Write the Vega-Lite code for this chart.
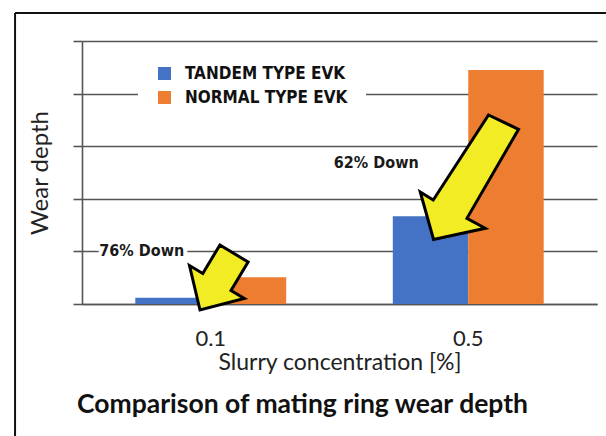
{
  "$schema": "https://vega.github.io/schema/vega-lite/v6.json",
  "width": 515,
  "height": 263,
  "autosize": {"type": "none"},
  "padding": {"left": 82, "top": 41, "right": 9, "bottom": 132},
  "background": "white",
  "config": {"view": {"stroke": null}, "font": "Lato"},
  "title": {
    "text": "Comparison of mating ring wear depth",
    "orient": "bottom",
    "anchor": "middle",
    "dx": -37,
    "offset": -66,
    "fontSize": 26.5,
    "fontWeight": "bold",
    "font": "Lato",
    "color": "#111111"
  },
  "datasets": {
    "bars": [
      {"conc": "0.1", "type": "TANDEM TYPE EVK", "depth": 0.12},
      {"conc": "0.1", "type": "NORMAL TYPE EVK", "depth": 0.51},
      {"conc": "0.5", "type": "TANDEM TYPE EVK", "depth": 1.67},
      {"conc": "0.5", "type": "NORMAL TYPE EVK", "depth": 4.45}
    ]
  },
  "resolve": {"scale": {"x": "independent", "y": "independent"}, "axis": {"x": "independent", "y": "independent"}},
  "layer": [
    {
      "data": {"values": [{}]},
      "layer": [
        {
          "mark": {"type": "rule", "color": "#111111", "strokeWidth": 2, "clip": false},
          "encoding": {
            "x": {"datum": -0.13, "type": "quantitative", "scale": {"domain": [0, 1], "nice": false, "zero": false}, "axis": null},
            "y": {"datum": 5.532, "type": "quantitative", "scale": {"domain": [0, 5], "nice": false}, "axis": null},
            "y2": {"datum": -2.9}
          }
        },
        {
          "mark": {"type": "rule", "color": "#111111", "strokeWidth": 2, "clip": false},
          "encoding": {
            "x": {"datum": -0.13, "type": "quantitative", "scale": {"domain": [0, 1], "nice": false, "zero": false}, "axis": null},
            "x2": {"datum": 1.2},
            "y": {"datum": 5.532, "type": "quantitative", "scale": {"domain": [0, 5], "nice": false}, "axis": null}
          }
        }
      ]
    },
    {
      "layer": [
        {
          "data": {"name": "bars"},
          "mark": {"type": "bar"},
          "encoding": {
            "x": {
              "field": "conc",
              "type": "nominal",
              "scale": {"domain": ["0.1", "0.5"], "paddingInner": 0.414, "paddingOuter": 0.207},
              "axis": {
                "title": "Slurry concentration [%]",
                "labelAngle": 0,
                "labelFont": "Lato",
                "labelFontSize": 22,
                "labelColor": "#222222",
                "labelPadding": 24,
                "ticks": false,
                "domainColor": "#555555",
                "domainWidth": 1.5,
                "titleFont": "Lato",
                "titleFontSize": 23,
                "titleFontWeight": "normal",
                "titleColor": "#222222",
                "titlePadding": 2,
                "grid": false
              }
            },
            "xOffset": {"field": "type", "type": "nominal", "scale": {"domain": ["TANDEM TYPE EVK", "NORMAL TYPE EVK"], "paddingInner": 0, "paddingOuter": 0}},
            "y": {
              "field": "depth",
              "type": "quantitative",
              "scale": {"domain": [0, 5], "nice": false},
              "axis": {
                "title": "Wear depth",
                "values": [0, 1, 2, 3, 4, 5],
                "labels": false,
                "grid": true,
                "gridColor": "#555555",
                "gridWidth": 1.6,
                "domainColor": "#555555",
                "domainWidth": 1.6,
                "tickColor": "#555555",
                "tickWidth": 1.6,
                "tickSize": 9,
                "titleFont": "Lato",
                "titleFontSize": 24,
                "titleFontWeight": "normal",
                "titleColor": "#222222",
                "titlePadding": 20
              }
            },
            "color": {
              "field": "type",
              "type": "nominal",
              "scale": {"domain": ["TANDEM TYPE EVK", "NORMAL TYPE EVK"], "range": ["#4472C4", "#ED7D31"]},
              "legend": {
                "title": null,
                "orient": "none",
                "legendX": 56,
                "legendY": 6,
                "padding": 18,
                "fillColor": "white",
                "symbolType": "square",
                "symbolSize": 169,
                "symbolStrokeWidth": 0,
                "symbolOpacity": 1,
                "labelFont": "DejaVu Sans Condensed, Liberation Sans Narrow, sans-serif",
                "labelFontWeight": "bold",
                "labelFontSize": 17,
                "labelLimit": 400,
                "labelColor": "#111111",
                "labelOffset": 12,
                "rowPadding": 6
              }
            }
          }
        },
        {
          "data": {"values": [{"conc": "0.1", "label": "76% Down"}]},
          "layer": [
            {
              "mark": {"type": "text", "dx": -69, "fontSize": 16, "fontWeight": "bold", "font": "Liberation Sans Narrow, DejaVu Sans Condensed, sans-serif", "stroke": "white", "strokeWidth": 8, "fill": "white", "align": "center", "baseline": "middle"},
              "encoding": {"x": {"field": "conc", "type": "nominal"}, "y": {"datum": 1, "type": "quantitative"}, "text": {"field": "label"}}
            },
            {
              "mark": {"type": "text", "dx": -69, "fontSize": 16, "fontWeight": "bold", "font": "Liberation Sans Narrow, DejaVu Sans Condensed, sans-serif", "color": "#1a1a1a", "align": "center", "baseline": "middle"},
              "encoding": {"x": {"field": "conc", "type": "nominal"}, "y": {"datum": 1, "type": "quantitative"}, "text": {"field": "label"}}
            }
          ]
        },
        {
          "data": {"values": [{"conc": "0.5", "label": "62% Down"}]},
          "mark": {"type": "text", "dx": -92, "fontSize": 16, "fontWeight": "bold", "font": "Liberation Sans Narrow, DejaVu Sans Condensed, sans-serif", "color": "#1a1a1a", "align": "center", "baseline": "middle"},
          "encoding": {"x": {"field": "conc", "type": "nominal"}, "y": {"datum": 2.68, "type": "quantitative"}, "text": {"field": "label"}}
        },
        {
          "data": {"values": [{"conc": "0.1"}]},
          "mark": {
            "type": "point",
            "shape": "M0.183,-0.654L0.747,-0.314L0.405,0.256L0.671,0.416L-0.215,0.646L-0.425,-0.244L-0.159,-0.084Z",
            "size": 10000,
            "filled": true,
            "fill": "#F2EC24",
            "stroke": "#000000",
            "strokeWidth": 3,
            "strokeJoin": "miter",
            "opacity": 1
          },
          "encoding": {"x": {"field": "conc", "type": "nominal"}, "y": {"datum": 0.5, "type": "quantitative"}}
        },
        {
          "data": {"values": [{"conc": "0.5"}]},
          "mark": {
            "type": "point",
            "shape": "M0.406,-1.15L1.006,-0.864L-0.026,0.916L0.34,1.116L-0.694,1.34L-0.96,0.39L-0.7,0.55Z",
            "size": 10000,
            "filled": true,
            "fill": "#F2EC24",
            "stroke": "#000000",
            "strokeWidth": 3,
            "strokeJoin": "miter",
            "opacity": 1
          },
          "encoding": {"x": {"field": "conc", "type": "nominal"}, "y": {"datum": 2.5, "type": "quantitative"}}
        }
      ]
    }
  ]
}
